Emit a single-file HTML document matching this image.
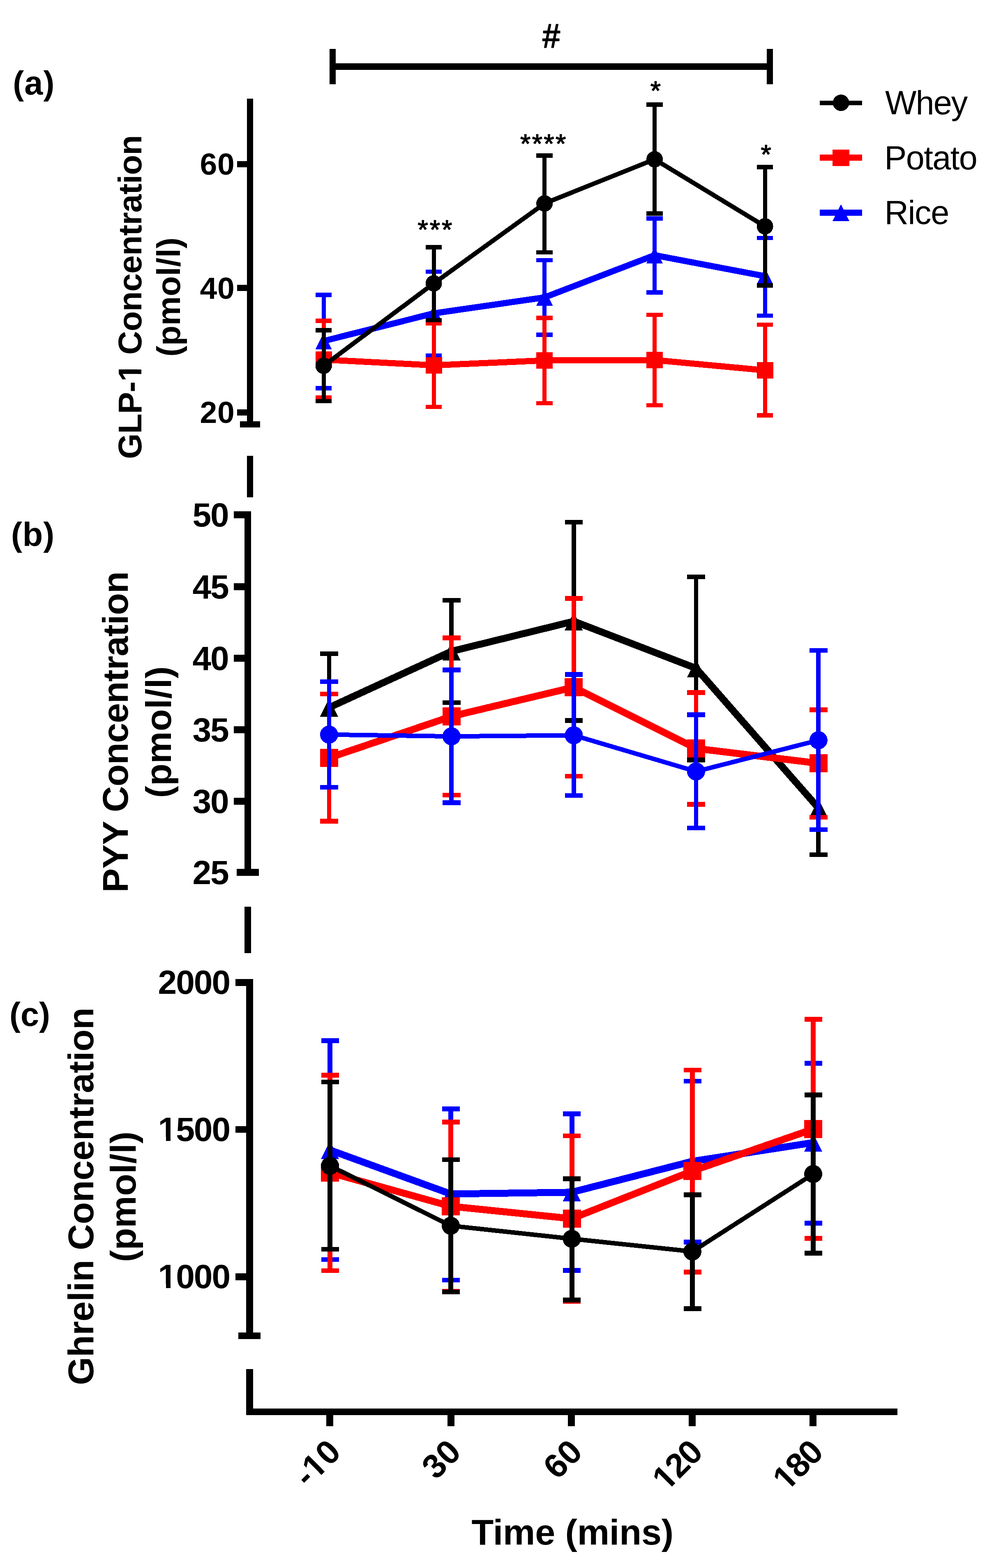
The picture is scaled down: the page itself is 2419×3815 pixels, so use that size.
<!DOCTYPE html>
<html lang="en">
<head>
<meta charset="utf-8">
<title>GLP-1, PYY and Ghrelin concentration over time: Whey, Potato, Rice</title>
<style>
html,body{margin:0;padding:0;background:#fff;}
body{width:2419px;height:3815px;overflow:hidden;}
svg{display:block;font-family:"Liberation Sans",Arial,Helvetica,sans-serif;}
svg rect,svg polyline,svg circle,svg polygon{shape-rendering:crispEdges;}
</style>
</head>
<body>
<svg width="2419" height="3815" viewBox="0 0 2419 3815">
<rect x="0" y="0" width="2419" height="3815" fill="#ffffff"/>
<g id="panel-a">
<rect x="802" y="154" width="1079" height="16" fill="#000"/>
<rect x="802" y="119" width="15" height="86" fill="#000"/>
<rect x="1866" y="119" width="15" height="86" fill="#000"/>
<g transform="translate(1320.45 114.9) scale(0.95 1.02)"><text font-size="80" font-weight="normal" fill="#000" stroke="#000" stroke-width="2.4" stroke-linejoin="round">#</text></g>
<g transform="translate(31.2 229.5)"><text font-size="81" font-weight="bold" letter-spacing="1.2" fill="#000">(a)</text></g>
<rect x="601" y="240" width="15" height="800" fill="#000"/>
<rect x="577" y="392" width="25" height="15" fill="#000"/>
<rect x="577" y="693" width="25" height="15" fill="#000"/>
<rect x="577" y="996" width="25" height="15" fill="#000"/>
<rect x="584" y="1025" width="49" height="15" fill="#000"/>
<rect x="601" y="1109" width="15" height="101" fill="#000"/>
<g transform="translate(486.6 425.2)"><text font-size="75" font-weight="bold" letter-spacing="0.6" fill="#000">60</text></g>
<g transform="translate(486.6 726.9)"><text font-size="75" font-weight="bold" letter-spacing="0.6" fill="#000">40</text></g>
<g transform="translate(486.6 1028.8)"><text font-size="75" font-weight="bold" letter-spacing="0.6" fill="#000">20</text></g>
<g transform="translate(344.1 1116.85) rotate(-90)"><text font-size="80" font-weight="bold" letter-spacing="-0.66" fill="#000">GLP-1 Concentration</text><rect x="190.85" y="-10.24" width="16.22" height="12" fill="#fff"/><rect x="218.15" y="-10.24" width="15.1" height="12" fill="#fff"/></g>
<g transform="translate(437.82 867.8) rotate(-90)"><text font-size="80" font-weight="bold" letter-spacing="0.17" fill="#000">(pmol/l)</text></g>
<rect x="783" y="717" width="10" height="113" fill="#0000ff"/>
<rect x="768" y="712" width="39" height="11" fill="#0000ff"/>
<rect x="783" y="830" width="10" height="114" fill="#0000ff"/>
<rect x="768" y="939" width="39" height="11" fill="#0000ff"/>
<rect x="1051" y="661" width="10" height="101" fill="#0000ff"/>
<rect x="1036" y="656" width="39" height="10" fill="#0000ff"/>
<rect x="1051" y="762" width="10" height="103" fill="#0000ff"/>
<rect x="1036" y="860" width="39" height="10" fill="#0000ff"/>
<rect x="1320" y="633" width="10" height="91" fill="#0000ff"/>
<rect x="1305" y="628" width="40" height="10" fill="#0000ff"/>
<rect x="1320" y="724" width="10" height="91" fill="#0000ff"/>
<rect x="1305" y="809" width="40" height="11" fill="#0000ff"/>
<rect x="1588" y="531" width="10" height="90" fill="#0000ff"/>
<rect x="1573" y="526" width="40" height="11" fill="#0000ff"/>
<rect x="1588" y="621" width="10" height="90" fill="#0000ff"/>
<rect x="1573" y="706" width="40" height="11" fill="#0000ff"/>
<rect x="1857" y="579" width="10" height="93" fill="#0000ff"/>
<rect x="1842" y="574" width="39" height="10" fill="#0000ff"/>
<rect x="1857" y="672" width="10" height="96" fill="#0000ff"/>
<rect x="1842" y="763" width="39" height="10" fill="#0000ff"/>
<polyline points="787.5,829.8 1055.6,762.4 1325.1,723.6 1593.1,620.9 1861.6,672" fill="none" stroke="#0000ff" stroke-width="15" stroke-linejoin="round"/>
<polygon points="787.5,809.8 807.5,849.8 767.5,849.8" fill="#0000ff"/>
<polygon points="1055.6,742.4 1075.6,782.4 1035.6,782.4" fill="#0000ff"/>
<polygon points="1325.1,703.6 1345.1,743.6 1305.1,743.6" fill="#0000ff"/>
<polygon points="1593.1,600.9 1613.1,640.9 1573.1,640.9" fill="#0000ff"/>
<polygon points="1861.6,652 1881.6,692 1841.6,692" fill="#0000ff"/>
<rect x="783" y="780" width="10" height="95" fill="#ff0000"/>
<rect x="768" y="775" width="39" height="11" fill="#ff0000"/>
<rect x="783" y="875" width="10" height="92" fill="#ff0000"/>
<rect x="768" y="962" width="39" height="10" fill="#ff0000"/>
<rect x="1051" y="786" width="10" height="103" fill="#ff0000"/>
<rect x="1036" y="781" width="39" height="11" fill="#ff0000"/>
<rect x="1051" y="889" width="10" height="101" fill="#ff0000"/>
<rect x="1036" y="985" width="39" height="10" fill="#ff0000"/>
<rect x="1320" y="774" width="10" height="103" fill="#ff0000"/>
<rect x="1305" y="768" width="40" height="11" fill="#ff0000"/>
<rect x="1320" y="877" width="10" height="104" fill="#ff0000"/>
<rect x="1305" y="976" width="40" height="10" fill="#ff0000"/>
<rect x="1588" y="766" width="10" height="110" fill="#ff0000"/>
<rect x="1573" y="761" width="40" height="10" fill="#ff0000"/>
<rect x="1588" y="876" width="10" height="110" fill="#ff0000"/>
<rect x="1573" y="981" width="40" height="10" fill="#ff0000"/>
<rect x="1857" y="790" width="10" height="111" fill="#ff0000"/>
<rect x="1842" y="785" width="39" height="10" fill="#ff0000"/>
<rect x="1857" y="901" width="10" height="110" fill="#ff0000"/>
<rect x="1842" y="1005" width="39" height="11" fill="#ff0000"/>
<polyline points="787.5,875 1055.6,888.8 1325.1,877 1593.1,876 1861.6,901" fill="none" stroke="#ff0000" stroke-width="15" stroke-linejoin="round"/>
<rect x="768" y="855" width="40" height="40" fill="#ff0000"/>
<rect x="1036" y="869" width="40" height="40" fill="#ff0000"/>
<rect x="1305" y="857" width="40" height="40" fill="#ff0000"/>
<rect x="1573" y="856" width="40" height="40" fill="#ff0000"/>
<rect x="1842" y="881" width="40" height="40" fill="#ff0000"/>
<rect x="783" y="803" width="10" height="87" fill="#000000"/>
<rect x="768" y="798" width="39" height="11" fill="#000000"/>
<rect x="783" y="890" width="10" height="86" fill="#000000"/>
<rect x="768" y="971" width="39" height="10" fill="#000000"/>
<rect x="1051" y="602" width="10" height="88" fill="#000000"/>
<rect x="1036" y="596" width="39" height="11" fill="#000000"/>
<rect x="1051" y="690" width="10" height="89" fill="#000000"/>
<rect x="1036" y="774" width="39" height="10" fill="#000000"/>
<rect x="1320" y="379" width="10" height="116" fill="#000000"/>
<rect x="1305" y="373" width="40" height="11" fill="#000000"/>
<rect x="1320" y="495" width="10" height="119" fill="#000000"/>
<rect x="1305" y="609" width="40" height="10" fill="#000000"/>
<rect x="1588" y="255" width="10" height="133" fill="#000000"/>
<rect x="1573" y="249" width="40" height="11" fill="#000000"/>
<rect x="1588" y="388" width="10" height="132" fill="#000000"/>
<rect x="1573" y="514" width="40" height="11" fill="#000000"/>
<rect x="1857" y="406" width="10" height="145" fill="#000000"/>
<rect x="1842" y="401" width="39" height="11" fill="#000000"/>
<rect x="1857" y="551" width="10" height="144" fill="#000000"/>
<rect x="1842" y="689" width="39" height="11" fill="#000000"/>
<polyline points="787.5,889.9 1055.6,689.5 1325.1,495 1593.1,387.6 1861.6,550.7" fill="none" stroke="#000000" stroke-width="11" stroke-linejoin="round"/>
<circle cx="787.5" cy="889.9" r="20" fill="#000000"/>
<circle cx="1055.6" cy="689.5" r="20" fill="#000000"/>
<circle cx="1325.1" cy="495" r="20" fill="#000000"/>
<circle cx="1593.1" cy="387.6" r="20" fill="#000000"/>
<circle cx="1861.6" cy="550.7" r="20" fill="#000000"/>
<g transform="translate(1016.5 580.75)"><text font-size="65" font-weight="normal" letter-spacing="4" fill="#000" stroke="#000" stroke-width="1.6" stroke-linejoin="round">***</text></g>
<g transform="translate(1266 372.45)"><text font-size="65" font-weight="normal" letter-spacing="3.33" fill="#000" stroke="#000" stroke-width="1.6" stroke-linejoin="round">****</text></g>
<g transform="translate(1582.7 243.35)"><text font-size="65" font-weight="normal" fill="#000" stroke="#000" stroke-width="1.6" stroke-linejoin="round">*</text></g>
<g transform="translate(1851.6 397.8)"><text font-size="65" font-weight="normal" fill="#000" stroke="#000" stroke-width="1.6" stroke-linejoin="round">*</text></g>
<rect x="1995" y="245" width="103" height="11" fill="#000000"/>
<circle cx="2046.6" cy="250.2" r="20" fill="#000000"/>
<g transform="translate(2154.1 277.7)"><text font-size="81" font-weight="normal" letter-spacing="-1.93" fill="#000">Whey</text></g>
<rect x="1995" y="376" width="103" height="15" fill="#ff0000"/>
<rect x="2026" y="364" width="41" height="40" fill="#ff0000"/>
<g transform="translate(2152.15 412)"><text font-size="81" font-weight="normal" letter-spacing="-1.5" fill="#000">Potato</text></g>
<rect x="1995" y="510" width="103" height="15" fill="#0000ff"/>
<polygon points="2046.5,497.5 2067,538 2026,538" fill="#0000ff"/>
<g transform="translate(2152.4 545.2)"><text font-size="81" font-weight="normal" letter-spacing="-1.4" fill="#000">Rice</text></g>
</g>
<g id="panel-b">
<rect x="595" y="1244" width="16" height="887" fill="#000"/>
<g transform="translate(468.5 1280.95)"><text font-size="82" font-weight="bold" letter-spacing="-2" fill="#000">50</text></g>
<rect x="569" y="1244" width="26" height="17" fill="#000"/>
<rect x="569" y="1419" width="26" height="17" fill="#000"/>
<g transform="translate(468.5 1456.25)"><text font-size="82" font-weight="bold" letter-spacing="-2" fill="#000">45</text></g>
<rect x="569" y="1593" width="26" height="17" fill="#000"/>
<g transform="translate(468.5 1630.35)"><text font-size="82" font-weight="bold" letter-spacing="-2" fill="#000">40</text></g>
<rect x="569" y="1767" width="26" height="17" fill="#000"/>
<g transform="translate(468.5 1804.05)"><text font-size="82" font-weight="bold" letter-spacing="-2" fill="#000">35</text></g>
<rect x="569" y="1941" width="26" height="17" fill="#000"/>
<g transform="translate(468.5 1978.45)"><text font-size="82" font-weight="bold" letter-spacing="-2" fill="#000">30</text></g>
<g transform="translate(468.5 2151.35)"><text font-size="82" font-weight="bold" letter-spacing="-2" fill="#000">25</text></g>
<rect x="576" y="2114" width="54" height="17" fill="#000"/>
<rect x="595" y="2206" width="16" height="113" fill="#000"/>
<g transform="translate(27 1328)"><text font-size="81" font-weight="bold" letter-spacing="0.9" fill="#000">(b)</text></g>
<g transform="translate(310.85 2171.45) rotate(-90)"><text font-size="88" font-weight="bold" letter-spacing="-0.87" fill="#000">PYY Concentration</text></g>
<g transform="translate(416.25 1941.55) rotate(-90)"><text font-size="88" font-weight="bold" letter-spacing="0.39" fill="#000">(pmol/l)</text></g>
<rect x="796" y="1590" width="10" height="132" fill="#000000"/>
<rect x="779" y="1585" width="44" height="11" fill="#000000"/>
<rect x="1093" y="1461" width="11" height="124" fill="#000000"/>
<rect x="1077" y="1455" width="44" height="11" fill="#000000"/>
<rect x="1093" y="1585" width="11" height="125" fill="#000000"/>
<rect x="1077" y="1704" width="44" height="11" fill="#000000"/>
<rect x="1391" y="1271" width="11" height="241" fill="#000000"/>
<rect x="1375" y="1265" width="43" height="11" fill="#000000"/>
<rect x="1391" y="1512" width="11" height="241" fill="#000000"/>
<rect x="1375" y="1747" width="43" height="12" fill="#000000"/>
<rect x="1689" y="1404" width="10" height="222" fill="#000000"/>
<rect x="1672" y="1398" width="44" height="11" fill="#000000"/>
<rect x="1689" y="1626" width="10" height="223" fill="#000000"/>
<rect x="1672" y="1843" width="44" height="12" fill="#000000"/>
<rect x="1986" y="1966" width="11" height="114" fill="#000000"/>
<rect x="1970" y="2074" width="44" height="11" fill="#000000"/>
<polyline points="800.9,1721.5 1098.8,1584.6 1396.4,1511.6 1694,1626 1991.8,1966" fill="none" stroke="#000000" stroke-width="17" stroke-linejoin="round"/>
<polygon points="800.9,1699.5 822.9,1743.5 778.9,1743.5" fill="#000000"/>
<polygon points="1098.8,1562.6 1120.8,1606.6 1076.8,1606.6" fill="#000000"/>
<polygon points="1396.4,1489.6 1418.4,1533.6 1374.4,1533.6" fill="#000000"/>
<polygon points="1694,1604 1716,1648 1672,1648" fill="#000000"/>
<polygon points="1991.8,1944 2013.8,1988 1969.8,1988" fill="#000000"/>
<rect x="796" y="1688" width="10" height="156" fill="#ff0000"/>
<rect x="779" y="1683" width="44" height="11" fill="#ff0000"/>
<rect x="796" y="1844" width="10" height="154" fill="#ff0000"/>
<rect x="779" y="1992" width="44" height="12" fill="#ff0000"/>
<rect x="1093" y="1552" width="11" height="191" fill="#ff0000"/>
<rect x="1077" y="1546" width="44" height="12" fill="#ff0000"/>
<rect x="1093" y="1743" width="11" height="191" fill="#ff0000"/>
<rect x="1077" y="1929" width="44" height="11" fill="#ff0000"/>
<rect x="1391" y="1456" width="11" height="216" fill="#ff0000"/>
<rect x="1375" y="1450" width="43" height="12" fill="#ff0000"/>
<rect x="1391" y="1672" width="11" height="217" fill="#ff0000"/>
<rect x="1375" y="1883" width="43" height="11" fill="#ff0000"/>
<rect x="1689" y="1685" width="10" height="136" fill="#ff0000"/>
<rect x="1672" y="1679" width="44" height="12" fill="#ff0000"/>
<rect x="1689" y="1821" width="10" height="136" fill="#ff0000"/>
<rect x="1672" y="1951" width="44" height="12" fill="#ff0000"/>
<rect x="1986" y="1727" width="11" height="130" fill="#ff0000"/>
<rect x="1970" y="1721" width="44" height="12" fill="#ff0000"/>
<rect x="1986" y="1857" width="11" height="132" fill="#ff0000"/>
<rect x="1970" y="1983" width="44" height="11" fill="#ff0000"/>
<polyline points="800.9,1843.9 1098.8,1742.9 1396.4,1672 1694,1821 1991.8,1857.2" fill="none" stroke="#ff0000" stroke-width="17" stroke-linejoin="round"/>
<rect x="779" y="1822" width="44" height="44" fill="#ff0000"/>
<rect x="1077" y="1721" width="44" height="44" fill="#ff0000"/>
<rect x="1374" y="1650" width="44" height="44" fill="#ff0000"/>
<rect x="1672" y="1799" width="44" height="44" fill="#ff0000"/>
<rect x="1970" y="1835" width="44" height="44" fill="#ff0000"/>
<rect x="796" y="1659" width="10" height="128" fill="#0000ff"/>
<rect x="779" y="1653" width="44" height="11" fill="#0000ff"/>
<rect x="796" y="1787" width="10" height="129" fill="#0000ff"/>
<rect x="779" y="1910" width="44" height="11" fill="#0000ff"/>
<rect x="1093" y="1630" width="11" height="162" fill="#0000ff"/>
<rect x="1077" y="1624" width="44" height="12" fill="#0000ff"/>
<rect x="1093" y="1792" width="11" height="161" fill="#0000ff"/>
<rect x="1077" y="1947" width="44" height="12" fill="#0000ff"/>
<rect x="1391" y="1641" width="11" height="148" fill="#0000ff"/>
<rect x="1375" y="1635" width="43" height="12" fill="#0000ff"/>
<rect x="1391" y="1789" width="11" height="147" fill="#0000ff"/>
<rect x="1375" y="1930" width="43" height="11" fill="#0000ff"/>
<rect x="1689" y="1739" width="10" height="138" fill="#0000ff"/>
<rect x="1672" y="1733" width="44" height="12" fill="#0000ff"/>
<rect x="1689" y="1877" width="10" height="138" fill="#0000ff"/>
<rect x="1672" y="2009" width="44" height="11" fill="#0000ff"/>
<rect x="1986" y="1583" width="11" height="218" fill="#0000ff"/>
<rect x="1970" y="1577" width="44" height="11" fill="#0000ff"/>
<rect x="1986" y="1801" width="11" height="218" fill="#0000ff"/>
<rect x="1970" y="2013" width="44" height="11" fill="#0000ff"/>
<polyline points="800.9,1787.3 1098.8,1791.6 1396.4,1789 1694,1877 1991.8,1801" fill="none" stroke="#0000ff" stroke-width="11" stroke-linejoin="round"/>
<circle cx="800.9" cy="1787.3" r="22" fill="#0000ff"/>
<circle cx="1098.8" cy="1791.6" r="22" fill="#0000ff"/>
<circle cx="1396.4" cy="1789" r="22" fill="#0000ff"/>
<circle cx="1694" cy="1877" r="22" fill="#0000ff"/>
<circle cx="1991.8" cy="1801" r="22" fill="#0000ff"/>
</g>
<g id="panel-c">
<rect x="599" y="2382" width="17" height="876" fill="#000"/>
<g transform="translate(384.6 2418)"><text font-size="82" font-weight="bold" letter-spacing="-2" fill="#000">2000</text></g>
<rect x="573" y="2382" width="27" height="17" fill="#000"/>
<rect x="573" y="2740" width="27" height="16" fill="#000"/>
<g transform="translate(384.6 2776.1)"><text font-size="82" font-weight="bold" letter-spacing="-2" fill="#000">1500</text><rect x="2.46" y="-10.5" width="16.63" height="12.3" fill="#fff"/><rect x="30.44" y="-10.5" width="15.48" height="12.3" fill="#fff"/></g>
<rect x="573" y="3098" width="27" height="17" fill="#000"/>
<g transform="translate(384.6 3134.4)"><text font-size="82" font-weight="bold" letter-spacing="-2" fill="#000">1000</text><rect x="2.46" y="-10.5" width="16.63" height="12.3" fill="#fff"/><rect x="30.44" y="-10.5" width="15.48" height="12.3" fill="#fff"/></g>
<rect x="580" y="3242" width="54" height="16" fill="#000"/>
<rect x="599" y="3331" width="17" height="112" fill="#000"/>
<rect x="599" y="3427" width="1585" height="16" fill="#000"/>
<g transform="translate(23.1 2496.35)"><text font-size="81" font-weight="bold" letter-spacing="-0.1" fill="#000">(c)</text></g>
<g transform="translate(227.4 3370.05) rotate(-90)"><text font-size="88" font-weight="bold" letter-spacing="-0.51" fill="#000">Ghrelin Concentration</text></g>
<g transform="translate(330.45 3070.85) rotate(-90)"><text font-size="88" font-weight="bold" letter-spacing="0.04" fill="#000">(pmol/l)</text></g>
<rect x="797" y="2532" width="12" height="266" fill="#0000ff"/>
<rect x="782" y="2526" width="43" height="12" fill="#0000ff"/>
<rect x="797" y="2798" width="12" height="267" fill="#0000ff"/>
<rect x="782" y="3059" width="43" height="11" fill="#0000ff"/>
<rect x="1091" y="2698" width="12" height="207" fill="#0000ff"/>
<rect x="1076" y="2692" width="43" height="12" fill="#0000ff"/>
<rect x="1091" y="2905" width="12" height="209" fill="#0000ff"/>
<rect x="1076" y="3109" width="43" height="11" fill="#0000ff"/>
<rect x="1386" y="2710" width="12" height="191" fill="#0000ff"/>
<rect x="1370" y="2704" width="43" height="12" fill="#0000ff"/>
<rect x="1386" y="2901" width="12" height="190" fill="#0000ff"/>
<rect x="1370" y="3085" width="43" height="12" fill="#0000ff"/>
<rect x="1679" y="2631" width="12" height="195" fill="#0000ff"/>
<rect x="1664" y="2625" width="43" height="11" fill="#0000ff"/>
<rect x="1679" y="2826" width="12" height="196" fill="#0000ff"/>
<rect x="1664" y="3016" width="43" height="12" fill="#0000ff"/>
<rect x="1973" y="2587" width="12" height="193" fill="#0000ff"/>
<rect x="1958" y="2581" width="43" height="12" fill="#0000ff"/>
<rect x="1973" y="2780" width="12" height="196" fill="#0000ff"/>
<rect x="1958" y="2970" width="43" height="12" fill="#0000ff"/>
<polyline points="803,2798 1097,2905 1391.5,2900.8 1685,2825.5 1979,2780" fill="none" stroke="#0000ff" stroke-width="17" stroke-linejoin="round"/>
<polygon points="803,2776 825,2820 781,2820" fill="#0000ff"/>
<polygon points="1097,2883 1119,2927 1075,2927" fill="#0000ff"/>
<polygon points="1391.5,2878.8 1413.5,2922.8 1369.5,2922.8" fill="#0000ff"/>
<polygon points="1685,2803.5 1707,2847.5 1663,2847.5" fill="#0000ff"/>
<polygon points="1979,2758 2001,2802 1957,2802" fill="#0000ff"/>
<rect x="797" y="2616" width="12" height="237" fill="#ff0000"/>
<rect x="782" y="2610" width="43" height="12" fill="#ff0000"/>
<rect x="797" y="2853" width="12" height="238" fill="#ff0000"/>
<rect x="782" y="3086" width="43" height="11" fill="#ff0000"/>
<rect x="1091" y="2730" width="12" height="205" fill="#ff0000"/>
<rect x="1076" y="2724" width="43" height="12" fill="#ff0000"/>
<rect x="1091" y="2935" width="12" height="207" fill="#ff0000"/>
<rect x="1076" y="3136" width="43" height="12" fill="#ff0000"/>
<rect x="1386" y="2764" width="12" height="201" fill="#ff0000"/>
<rect x="1370" y="2758" width="43" height="11" fill="#ff0000"/>
<rect x="1386" y="2965" width="12" height="201" fill="#ff0000"/>
<rect x="1370" y="3161" width="43" height="11" fill="#ff0000"/>
<rect x="1679" y="2604" width="12" height="245" fill="#ff0000"/>
<rect x="1664" y="2598" width="43" height="11" fill="#ff0000"/>
<rect x="1679" y="2849" width="12" height="246" fill="#ff0000"/>
<rect x="1664" y="3089" width="43" height="12" fill="#ff0000"/>
<rect x="1973" y="2480" width="12" height="267" fill="#ff0000"/>
<rect x="1958" y="2474" width="43" height="12" fill="#ff0000"/>
<rect x="1973" y="2747" width="12" height="266" fill="#ff0000"/>
<rect x="1958" y="3007" width="43" height="12" fill="#ff0000"/>
<polyline points="803,2853 1097,2935 1391.5,2965 1685,2849 1979,2747" fill="none" stroke="#ff0000" stroke-width="17" stroke-linejoin="round"/>
<rect x="781" y="2831" width="44" height="44" fill="#ff0000"/>
<rect x="1075" y="2913" width="44" height="44" fill="#ff0000"/>
<rect x="1370" y="2943" width="44" height="44" fill="#ff0000"/>
<rect x="1663" y="2827" width="44" height="44" fill="#ff0000"/>
<rect x="1957" y="2725" width="44" height="44" fill="#ff0000"/>
<rect x="797" y="2633" width="12" height="204" fill="#000000"/>
<rect x="782" y="2627" width="43" height="11" fill="#000000"/>
<rect x="797" y="2837" width="12" height="203" fill="#000000"/>
<rect x="782" y="3034" width="43" height="11" fill="#000000"/>
<rect x="1091" y="2822" width="12" height="160" fill="#000000"/>
<rect x="1076" y="2816" width="43" height="11" fill="#000000"/>
<rect x="1091" y="2982" width="12" height="162" fill="#000000"/>
<rect x="1076" y="3138" width="43" height="11" fill="#000000"/>
<rect x="1386" y="2868" width="12" height="146" fill="#000000"/>
<rect x="1370" y="2862" width="43" height="12" fill="#000000"/>
<rect x="1386" y="3014" width="12" height="149" fill="#000000"/>
<rect x="1370" y="3157" width="43" height="12" fill="#000000"/>
<rect x="1679" y="2907" width="12" height="138" fill="#000000"/>
<rect x="1664" y="2901" width="43" height="12" fill="#000000"/>
<rect x="1679" y="3045" width="12" height="139" fill="#000000"/>
<rect x="1664" y="3178" width="43" height="12" fill="#000000"/>
<rect x="1973" y="2664" width="12" height="192" fill="#000000"/>
<rect x="1958" y="2658" width="43" height="12" fill="#000000"/>
<rect x="1973" y="2856" width="12" height="193" fill="#000000"/>
<rect x="1958" y="3043" width="43" height="12" fill="#000000"/>
<polyline points="803,2836.5 1097,2982.3 1391.5,3014 1685,3045 1979,2856.4" fill="none" stroke="#000000" stroke-width="11" stroke-linejoin="round"/>
<circle cx="803" cy="2836.5" r="22" fill="#000000"/>
<circle cx="1097" cy="2982.3" r="22" fill="#000000"/>
<circle cx="1391.5" cy="3014" r="22" fill="#000000"/>
<circle cx="1685" cy="3045" r="22" fill="#000000"/>
<circle cx="1979" cy="2856.4" r="22" fill="#000000"/>
<rect x="794" y="3435" width="17" height="35" fill="#000"/>
<g transform="translate(749.4 3621.5) rotate(-45)"><text font-size="82" font-weight="bold" letter-spacing="0.3" fill="#000">-10</text><rect x="30.05" y="-10.5" width="16.63" height="12.3" fill="#fff"/><rect x="58.03" y="-10.5" width="15.48" height="12.3" fill="#fff"/></g>
<rect x="1089" y="3435" width="17" height="35" fill="#000"/>
<g transform="translate(1061 3602.5) rotate(-45)"><text font-size="82" font-weight="bold" letter-spacing="1" fill="#000">30</text></g>
<rect x="1382" y="3435" width="17" height="35" fill="#000"/>
<g transform="translate(1356.6 3602.5) rotate(-45)"><text font-size="82" font-weight="bold" letter-spacing="1" fill="#000">60</text></g>
<rect x="1676" y="3435" width="17" height="35" fill="#000"/>
<g transform="translate(1621.7 3630.5) rotate(-45)"><text font-size="82" font-weight="bold" letter-spacing="-2.5" fill="#000">120</text><rect x="2.46" y="-10.5" width="16.63" height="12.3" fill="#fff"/><rect x="30.44" y="-10.5" width="15.48" height="12.3" fill="#fff"/></g>
<rect x="1970" y="3435" width="17" height="35" fill="#000"/>
<g transform="translate(1915 3630.5) rotate(-45)"><text font-size="82" font-weight="bold" letter-spacing="-2.5" fill="#000">180</text><rect x="2.46" y="-10.5" width="16.63" height="12.3" fill="#fff"/><rect x="30.44" y="-10.5" width="15.48" height="12.3" fill="#fff"/></g>
<g transform="translate(1147.55 3758.25)"><text font-size="88" font-weight="bold" letter-spacing="-0.07" fill="#000">Time (mins)</text></g>
</g>
</svg>
</body>
</html>
